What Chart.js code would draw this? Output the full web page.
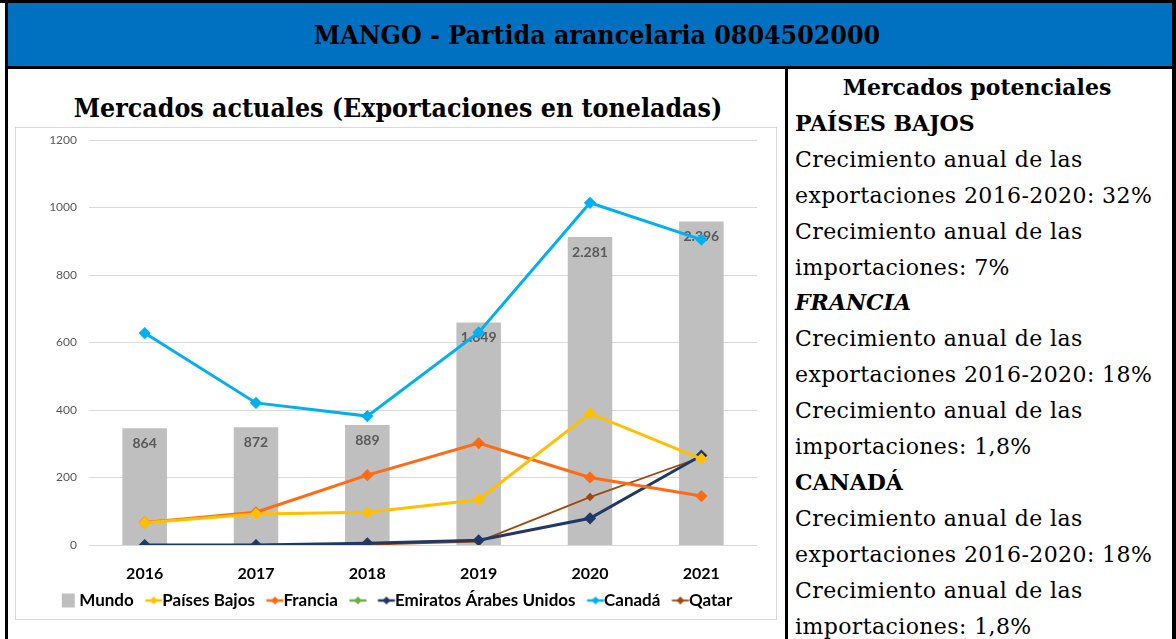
<!DOCTYPE html>
<html lang="es">
<head>
<meta charset="utf-8">
<title>MANGO - Partida arancelaria 0804502000</title>
<script src="https://cdn.jsdelivr.net/npm/chart.js@4.4.1/dist/chart.umd.min.js"></script>
<style>
  html, body { margin: 0; padding: 0; background: #fff; }
  body { width: 1176px; height: 639px; position: relative; overflow: hidden; }
  .line { position: absolute; background: #000; }
  .header {
    position: absolute; left: 8px; top: 3px; width: 1164px; height: 63px;
    background: #0070C0; color: #000;
    font: bold 26.5px "DejaVu Serif Condensed", "DejaVu Serif", serif;
    display: flex; align-items: center; justify-content: center;
    padding-left: 14px; box-sizing: border-box;
  }
  .chart-title {
    position: absolute; left: 16px; top: 92px; width: 764px; text-align: center;
    font: bold 26.5px "DejaVu Serif Condensed", "DejaVu Serif", serif; color: #000;
  }
  .frame {
    position: absolute; left: 15px; top: 127px; width: 762px; height: 493px;
    border: 1px solid #D9D9D9; box-sizing: border-box;
  }
  .side {
    position: absolute; left: 795px; top: 70px; width: 380px;
    font: 22px "DejaVu Serif", serif; letter-spacing: 0.4px;
    line-height: 35.9px; color: #000; white-space: nowrap;
  }
  .side .center { text-align: center; width: 380px; margin-left: -8px; font-weight: bold; letter-spacing: 0; }
  .side b { font-weight: bold; letter-spacing: 0; }
</style>
</head>
<body>
<div class="line" style="left:0;top:0;width:1176px;height:3px"></div>
<div class="line" style="left:5px;top:0;width:3px;height:639px"></div>
<div class="line" style="left:1172px;top:0;width:4px;height:639px"></div>
<div class="header">MANGO - Partida arancelaria 0804502000</div>
<div class="line" style="left:5px;top:66px;width:1171px;height:3px"></div>
<div class="line" style="left:785px;top:66px;width:3px;height:573px"></div>

<div class="chart-title">Mercados actuales (Exportaciones en toneladas)</div>
<div class="frame"><canvas id="chart"></canvas></div>

<div class="side">
  <div class="center">Mercados potenciales</div>
  <div><b>PAÍSES BAJOS</b></div>
  <div>Crecimiento anual de las</div>
  <div>exportaciones 2016-2020: 32%</div>
  <div>Crecimiento anual de las</div>
  <div>importaciones: 7%</div>
  <div><b><i>FRANCIA</i></b></div>
  <div>Crecimiento anual de las</div>
  <div>exportaciones 2016-2020: 18%</div>
  <div>Crecimiento anual de las</div>
  <div>importaciones: 1,8%</div>
  <div><b>CANADÁ</b></div>
  <div>Crecimiento anual de las</div>
  <div>exportaciones 2016-2020: 18%</div>
  <div>Crecimiento anual de las</div>
  <div>importaciones: 1,8%</div>
</div>

<script>
const years = ["2016", "2017", "2018", "2019", "2020", "2021"];
const mundo = [864, 872, 889, 1649, 2281, 2396];
const paisesBajos = [66, 92, 97, 134, 390, 255];
const francia = [67, 97, 207, 302, 200, 145];
const sinNombre = [null, null, null, null, null, null];
const emiratos = [0, 0, 5, 14, 79, 265];
const canada = [628, 421, 382, 630, 1014, 905];
const qatar = [0, 0, 1, 10, 142, 260];
const yTicks = [0, 200, 400, 600, 800, 1000, 1200];

const FONT = "Lato, 'Open Sans', sans-serif";

function miles(v) {
  return String(v).replace(/\B(?=(\d{3})+(?!\d))/g, ".");
}

// marcas de la leyenda: cuadro para barras, linea con rombo para series
function legendMark(color, kind, lw) {
  const c = document.createElement("canvas");
  c.width = 36;
  c.height = 16;
  const g = c.getContext("2d");
  if (kind === "box") {
    g.fillStyle = color;
    g.fillRect(17, 1, 13, 14);
  } else {
    g.strokeStyle = color;
    g.lineWidth = lw;
    g.beginPath();
    g.moveTo(17.5, 8);
    g.lineTo(34.5, 8);
    g.stroke();
    g.fillStyle = color;
    g.beginPath();
    g.moveTo(26, 4);
    g.lineTo(30, 8);
    g.lineTo(26, 12);
    g.lineTo(22, 8);
    g.closePath();
    g.fill();
  }
  return c;
}

function lineSet(label, data, color, width, radius) {
  return {
    type: "line",
    label,
    data,
    borderColor: color,
    backgroundColor: color,
    borderWidth: width,
    pointStyle: "rectRot",
    pointRadius: radius,
    pointHoverRadius: radius,
    tension: 0,
    yAxisID: "y",
    order: 0,
    mark: legendMark(color, "line", Math.min(width, 2.5)),
  };
}

const datasets = [
  {
    type: "bar",
    label: "Mundo",
    data: mundo,
    backgroundColor: "#BFBFBF",
    yAxisID: "y2",
    barPercentage: 0.8,
    categoryPercentage: 0.5,
    order: 1,
    mark: legendMark("#BFBFBF", "box"),
  },
  lineSet("Países Bajos", paisesBajos, "#FFC000", 3, 4),
  lineSet("Francia", francia, "#FF6A13", 3, 4),
  lineSet("", sinNombre, "#70AD47", 3, 4),
  lineSet("Emiratos Árabes Unidos", emiratos, "#203864", 3, 4),
  lineSet("Canadá", canada, "#00B0F0", 3, 4),
  lineSet("Qatar", qatar, "#9E480E", 1.8, 3),
];

const barLabels = {
  id: "barLabels",
  afterDatasetDraw(chart, args) {
    if (args.index !== 0) return;
    const ctx = chart.ctx;
    ctx.save();
    ctx.font = "bold 14px " + FONT;
    ctx.fillStyle = "#595959";
    ctx.textAlign = "center";
    ctx.textBaseline = "middle";
    args.meta.data.forEach((bar, i) => {
      ctx.fillText(miles(mundo[i]), bar.x, bar.y + 15);
    });
    ctx.restore();
  },
};

new Chart(document.getElementById("chart"), {
  data: { labels: years, datasets },
  options: {
    responsive: true,
    maintainAspectRatio: false,
    animation: false,
    layout: {
      padding: { top: 12, right: 19, bottom: 0, left: 14 },
    },
    plugins: {
      tooltip: { enabled: false },
      legend: {
        position: "bottom",
        labels: {
          usePointStyle: true,
          pointStyleWidth: 16,
          padding: 4,
          color: "#000",
          font: { family: FONT, size: 17, weight: "bold" },
          sort: (a, b) => a.datasetIndex - b.datasetIndex,
          generateLabels(chart) {
            const items = Chart.defaults.plugins.legend.labels.generateLabels(chart);
            items.forEach((it) => {
              it.pointStyle = chart.data.datasets[it.datasetIndex].mark;
            });
            return items;
          },
        },
      },
    },
    scales: {
      x: {
        afterFit(scale) {
          scale.height = 43;
        },
        grid: { display: false, drawTicks: false },
        border: { display: false },
        ticks: {
          padding: 19,
          color: "#000",
          font: { family: FONT, size: 16, weight: "bold" },
        },
      },
      y: {
        min: 0,
        max: 1200,
        afterBuildTicks(scale) {
          scale.ticks = yTicks.map((v) => ({ value: v }));
        },
        afterFit(scale) {
          scale.width = 59;
          scale.paddingTop = 0;
          scale.paddingBottom = 0;
        },
        grid: { color: "#D9D9D9", drawTicks: false },
        border: { display: false },
        ticks: {
          padding: 12,
          color: "#595959",
          font: { family: FONT, size: 12 },
          callback: (v) => String(v),
        },
      },
      y2: {
        display: false,
        min: 0,
        max: 3000,
      },
    },
  },
  plugins: [barLabels],
});
</script>
</body>
</html>
